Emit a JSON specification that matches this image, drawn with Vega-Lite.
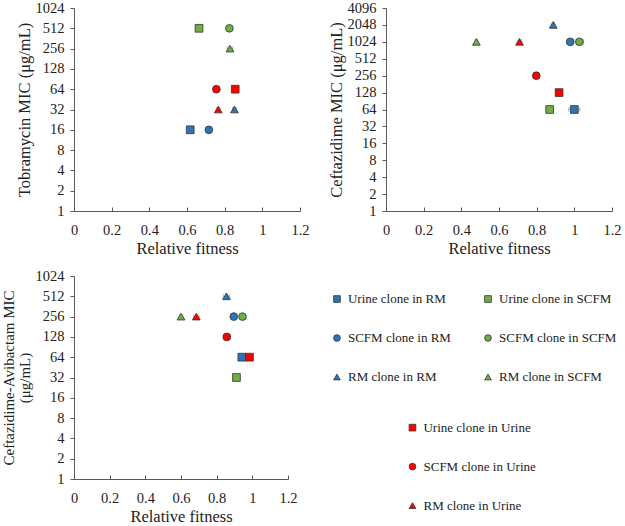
{
  "$schema": "https://vega.github.io/schema/vega-lite/v6.json",
  "padding": {"left": 0, "top": 0, "right": 0, "bottom": 0},
  "config": {
    "font": "Liberation Serif",
    "view": {"stroke": null},
    "axis": {
      "grid": false,
      "domainColor": "#595959",
      "tickColor": "#595959",
      "labelColor": "#222222",
      "titleColor": "#222222",
      "labelFont": "Liberation Serif",
      "titleFont": "Liberation Serif",
      "labelFontSize": 14.5,
      "titleFontSize": 16.5,
      "titleFontWeight": "normal",
      "labelFlush": false
    },
    "axisX": {"tickSize": -4, "labelPadding": 16, "titlePadding": 4},
    "axisY": {"tickSize": 4, "labelPadding": 6, "titleX": -42, "titleY": 101.5, "titleLineHeight": 18}
  },
  "datasets": {
    "pts": [
      {"panel": "A", "clone": "Urine", "medium": "SCFM", "fit": 0.664, "lo": 0.649, "hi": 0.679, "mic": 512},
      {"panel": "A", "clone": "SCFM", "medium": "SCFM", "fit": 0.825, "lo": 0.817, "hi": 0.833, "mic": 512},
      {"panel": "A", "clone": "RM", "medium": "SCFM", "fit": 0.828, "lo": 0.813, "hi": 0.843, "mic": 256},
      {"panel": "A", "clone": "Urine", "medium": "RM", "fit": 0.617, "lo": 0.609, "hi": 0.625, "mic": 16},
      {"panel": "A", "clone": "SCFM", "medium": "RM", "fit": 0.716, "lo": 0.708, "hi": 0.724, "mic": 16},
      {"panel": "A", "clone": "RM", "medium": "RM", "fit": 0.852, "lo": 0.842, "hi": 0.862, "mic": 32},
      {"panel": "A", "clone": "SCFM", "medium": "Urine", "fit": 0.756, "lo": 0.748, "hi": 0.764, "mic": 64},
      {"panel": "A", "clone": "Urine", "medium": "Urine", "fit": 0.856, "lo": 0.848, "hi": 0.864, "mic": 64},
      {"panel": "A", "clone": "RM", "medium": "Urine", "fit": 0.766, "lo": 0.758, "hi": 0.774, "mic": 32},

      {"panel": "B", "clone": "RM", "medium": "RM", "fit": 0.888, "lo": 0.880, "hi": 0.896, "mic": 2048},
      {"panel": "B", "clone": "SCFM", "medium": "RM", "fit": 0.978, "lo": 0.963, "hi": 0.993, "mic": 1024},
      {"panel": "B", "clone": "Urine", "medium": "RM", "fit": 1.0, "lo": 0.97, "hi": 1.03, "mic": 64},
      {"panel": "B", "clone": "RM", "medium": "SCFM", "fit": 0.480, "lo": 0.472, "hi": 0.488, "mic": 1024},
      {"panel": "B", "clone": "SCFM", "medium": "SCFM", "fit": 1.027, "lo": 1.005, "hi": 1.049, "mic": 1024},
      {"panel": "B", "clone": "Urine", "medium": "SCFM", "fit": 0.869, "lo": 0.861, "hi": 0.877, "mic": 64},
      {"panel": "B", "clone": "RM", "medium": "Urine", "fit": 0.709, "lo": 0.697, "hi": 0.721, "mic": 1024},
      {"panel": "B", "clone": "SCFM", "medium": "Urine", "fit": 0.798, "lo": 0.790, "hi": 0.806, "mic": 256},
      {"panel": "B", "clone": "Urine", "medium": "Urine", "fit": 0.919, "lo": 0.909, "hi": 0.929, "mic": 128},

      {"panel": "C", "clone": "RM", "medium": "RM", "fit": 0.855, "lo": 0.837, "hi": 0.873, "mic": 512},
      {"panel": "C", "clone": "SCFM", "medium": "RM", "fit": 0.896, "lo": 0.888, "hi": 0.904, "mic": 256},
      {"panel": "C", "clone": "Urine", "medium": "RM", "fit": 0.941, "lo": 0.933, "hi": 0.949, "mic": 64},
      {"panel": "C", "clone": "RM", "medium": "SCFM", "fit": 0.600, "lo": 0.590, "hi": 0.610, "mic": 256},
      {"panel": "C", "clone": "SCFM", "medium": "SCFM", "fit": 0.945, "lo": 0.937, "hi": 0.953, "mic": 256},
      {"panel": "C", "clone": "Urine", "medium": "SCFM", "fit": 0.911, "lo": 0.903, "hi": 0.919, "mic": 32},
      {"panel": "C", "clone": "RM", "medium": "Urine", "fit": 0.686, "lo": 0.671, "hi": 0.701, "mic": 256},
      {"panel": "C", "clone": "SCFM", "medium": "Urine", "fit": 0.857, "lo": 0.837, "hi": 0.877, "mic": 128},
      {"panel": "C", "clone": "Urine", "medium": "Urine", "fit": 0.984, "lo": 0.976, "hi": 0.992, "mic": 64}
    ],
    "leg": [
      {"label": "Urine clone in RM", "clone": "Urine", "medium": "RM", "col": 0, "row": 0},
      {"label": "SCFM clone in RM", "clone": "SCFM", "medium": "RM", "col": 0, "row": 1},
      {"label": "RM clone in RM", "clone": "RM", "medium": "RM", "col": 0, "row": 2},
      {"label": "Urine clone in SCFM", "clone": "Urine", "medium": "SCFM", "col": 1, "row": 0},
      {"label": "SCFM clone in SCFM", "clone": "SCFM", "medium": "SCFM", "col": 1, "row": 1},
      {"label": "RM clone in SCFM", "clone": "RM", "medium": "SCFM", "col": 1, "row": 2},
      {"label": "Urine clone in Urine", "clone": "Urine", "medium": "Urine", "col": 0.5, "row": 3.3},
      {"label": "SCFM clone in Urine", "clone": "SCFM", "medium": "Urine", "col": 0.5, "row": 4.3},
      {"label": "RM clone in Urine", "clone": "RM", "medium": "Urine", "col": 0.5, "row": 5.3}
    ]
  },
  "spacing": {"row": 11, "column": 17},
  "columns": 2,
  "align": "none",
  "concat": [
    {
      "width": 226, "height": 203,
      "data": {"name": "pts"},
      "transform": [{"filter": "datum.panel == 'A'"}],
      "layer": [
        {
          "mark": {"type": "errorbar", "ticks": true, "color": "#a6a6a6"},
          "encoding": {
            "x": {"field": "lo", "type": "quantitative", "title": "Relative fitness"},
            "x2": {"field": "hi"},
            "y": {"field": "mic", "type": "quantitative", "title": "Tobramycin MIC (μg/mL)"}
          }
        },
        {
          "mark": {"type": "point", "filled": true, "size": 60, "stroke": "#333333", "strokeWidth": 0.8, "opacity": 1},
          "encoding": {
            "x": {"field": "fit", "type": "quantitative", "title": "Relative fitness", "scale": {"domain": [0, 1.2], "nice": false}, "axis": {"tickCount": 6, "format": "~g", "labelOverlap": false}},
            "y": {"field": "mic", "type": "quantitative", "title": "Tobramycin MIC (μg/mL)", "scale": {"type": "log", "base": 2, "domain": [1, 1024], "nice": false}, "axis": {"values": [1, 2, 4, 8, 16, 32, 64, 128, 256, 512, 1024], "format": "d", "labelOverlap": false}},
            "color": {"field": "medium", "type": "nominal", "scale": {"domain": ["RM", "SCFM", "Urine"], "range": ["#2E75B6", "#70AD47", "#FF0000"]}, "legend": null},
            "shape": {"field": "clone", "type": "nominal", "scale": {"domain": ["Urine", "SCFM", "RM"], "range": ["square", "circle", "triangle-up"]}, "legend": null}
          }
        }
      ]
    },
    {
      "width": 226, "height": 203,
      "data": {"name": "pts"},
      "transform": [{"filter": "datum.panel == 'B'"}],
      "layer": [
        {
          "mark": {"type": "errorbar", "ticks": true, "color": "#a6a6a6"},
          "encoding": {
            "x": {"field": "lo", "type": "quantitative", "title": "Relative fitness"},
            "x2": {"field": "hi"},
            "y": {"field": "mic", "type": "quantitative", "title": "Ceftazidime MIC (μg/mL)"}
          }
        },
        {
          "mark": {"type": "point", "filled": true, "size": 60, "stroke": "#333333", "strokeWidth": 0.8, "opacity": 1},
          "encoding": {
            "x": {"field": "fit", "type": "quantitative", "title": "Relative fitness", "scale": {"domain": [0, 1.2], "nice": false}, "axis": {"tickCount": 6, "format": "~g", "labelOverlap": false}},
            "y": {"field": "mic", "type": "quantitative", "title": "Ceftazidime MIC (μg/mL)", "scale": {"type": "log", "base": 2, "domain": [1, 4096], "nice": false}, "axis": {"values": [1, 2, 4, 8, 16, 32, 64, 128, 256, 512, 1024, 2048, 4096], "format": "d", "labelOverlap": false}},
            "color": {"field": "medium", "type": "nominal", "scale": {"domain": ["RM", "SCFM", "Urine"], "range": ["#2E75B6", "#70AD47", "#FF0000"]}, "legend": null},
            "shape": {"field": "clone", "type": "nominal", "scale": {"domain": ["Urine", "SCFM", "RM"], "range": ["square", "circle", "triangle-up"]}, "legend": null}
          }
        }
      ]
    },
    {
      "width": 214, "height": 203,
      "data": {"name": "pts"},
      "transform": [{"filter": "datum.panel == 'C'"}],
      "layer": [
        {
          "mark": {"type": "errorbar", "ticks": true, "color": "#a6a6a6"},
          "encoding": {
            "x": {"field": "lo", "type": "quantitative", "title": "Relative fitness"},
            "x2": {"field": "hi"},
            "y": {"field": "mic", "type": "quantitative", "title": ["Ceftazidime-Avibactam MIC", "(μg/mL)"]}
          }
        },
        {
          "mark": {"type": "point", "filled": true, "size": 60, "stroke": "#333333", "strokeWidth": 0.8, "opacity": 1},
          "encoding": {
            "x": {"field": "fit", "type": "quantitative", "title": "Relative fitness", "scale": {"domain": [0, 1.2], "nice": false}, "axis": {"tickCount": 6, "format": "~g", "labelOverlap": false}},
            "y": {"field": "mic", "type": "quantitative", "title": ["Ceftazidime-Avibactam MIC", "(μg/mL)"], "scale": {"type": "log", "base": 2, "domain": [1, 1024], "nice": false}, "axis": {"values": [1, 2, 4, 8, 16, 32, 64, 128, 256, 512, 1024], "format": "d", "labelOverlap": false, "titleX": -58, "titleFontSize": 15, "titleLineHeight": 16}},
            "color": {"field": "medium", "type": "nominal", "scale": {"domain": ["RM", "SCFM", "Urine"], "range": ["#2E75B6", "#70AD47", "#FF0000"]}, "legend": null},
            "shape": {"field": "clone", "type": "nominal", "scale": {"domain": ["Urine", "SCFM", "RM"], "range": ["square", "circle", "triangle-up"]}, "legend": null}
          }
        }
      ]
    },
    {
      "width": 161, "height": 245,
      "data": {"name": "leg"},
      "layer": [
        {
          "mark": {"type": "point", "filled": true, "size": 45, "stroke": "#333333", "strokeWidth": 0.8, "opacity": 1},
          "encoding": {
            "x": {"field": "col", "type": "quantitative", "scale": {"domain": [-0.066, 1], "nice": false, "zero": false}, "axis": null},
            "y": {"field": "row", "type": "quantitative", "scale": {"domain": [-0.796, 5.49], "nice": false, "zero": false, "reverse": true}, "axis": null},
            "color": {"field": "medium", "type": "nominal", "scale": {"domain": ["RM", "SCFM", "Urine"], "range": ["#2E75B6", "#70AD47", "#FF0000"]}, "legend": null},
            "shape": {"field": "clone", "type": "nominal", "scale": {"domain": ["Urine", "SCFM", "RM"], "range": ["square", "circle", "triangle-up"]}, "legend": null}
          }
        },
        {
          "mark": {"type": "text", "align": "left", "baseline": "middle", "dx": 11, "fontSize": 13, "font": "Liberation Serif", "color": "#222222"},
          "encoding": {
            "x": {"field": "col", "type": "quantitative"},
            "y": {"field": "row", "type": "quantitative"},
            "text": {"field": "label", "type": "nominal"}
          }
        }
      ]
    }
  ]
}
